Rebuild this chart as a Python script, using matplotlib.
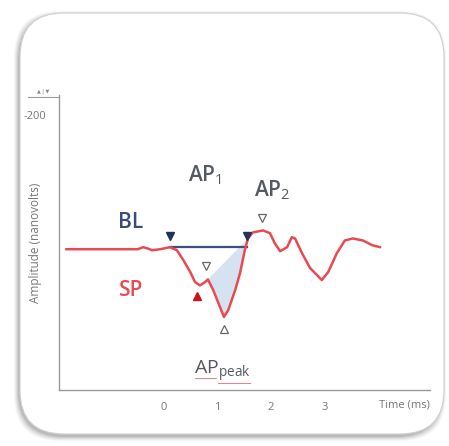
import matplotlib
matplotlib.use("Agg")
import matplotlib.pyplot as plt
from matplotlib.patches import FancyBboxPatch
import numpy as np

plt.rcParams["font.family"] = ["Open Sans", "DejaVu Sans"]
plt.rcParams["mathtext.fontset"] = "custom"
plt.rcParams["mathtext.rm"] = "Open Sans"
plt.rcParams["mathtext.it"] = "Open Sans:italic"

# signal: time (ms) and amplitude (nV, negative is up)
time_ms = [-1.83, -1.20, -0.49, -0.39, -0.32, -0.22, -0.07, 0.11, 0.24, 0.36,
           0.49, 0.58, 0.67, 0.77, 0.82, 0.92, 1.05, 1.12, 1.20, 1.33,
           1.42, 1.51, 1.57, 1.66, 1.85, 1.98, 2.07, 2.17, 2.30, 2.39,
           2.45, 2.58, 2.73, 2.95, 3.07, 3.23, 3.38, 3.53, 3.72, 3.89, 4.04]
amp_nv = [0, 0, 0, -3, -1.5, 1.5, 0, -3, 1.5, 16,
          34, 49, 54, 49, 45, 61, 87, 101, 91, 61,
          36, 1.5, -16, -25, -28, -24, -9, 3, -3, -18,
          -16, 6, 28, 46, 34, 6, -13, -16, -13, -6, -3]

# baseline
bl_t = [0.11, 1.55]
bl_a = [-3, -3]

# markers
bl_mark_t = [0.11, 1.55]
bl_mark_a = [-19, -19]
open_down_t = [0.79, 1.83]
open_down_a = [25, -46]
sp_mark_t, sp_mark_a = [0.62], [70]
peak_mark_t, peak_mark_a = [1.12], [119]

# AP1 area limits
area_t0, area_t1 = 0.80, 1.58

xticks = [0, 1, 2, 3]
yticks = [-200]

red = "#e84a4f"
navy = "#23325e"
blue_txt = "#3b4a7c"
gray_txt = "#555a60"

fig = plt.figure(figsize=(4.49, 4.46), dpi=100)

# frame with shadow
bg = fig.add_axes([0, 0, 1, 1])
bg.set_xlim(0, 449)
bg.set_ylim(446, 0)
bg.axis("off")
for i, al in enumerate([0.05, 0.07, 0.09, 0.12, 0.16]):
    g = 4 - i
    bg.add_patch(FancyBboxPatch((20 - g - 2, 14 - g + 1), 424 + 2 * g, 422 + 2 * g,
                                boxstyle="round,pad=0,rounding_size=46",
                                fc="#5a5a5a", ec="none", alpha=al))
bg.add_patch(FancyBboxPatch((20, 13), 424, 421,
                            boxstyle="round,pad=0,rounding_size=44",
                            fc="white", ec="#d0d0d0", lw=0.8))

ax = fig.add_axes([59 / 449, 1 - 390 / 446, 371 / 449, 295 / 446])
ax.patch.set_alpha(0)
ax.set_xlim(-1.963, 4.972)
ax.set_ylim(210, -230)

t = np.array(time_ms)
a = np.array(amp_nv)
sel = (t >= area_t0) & (t <= area_t1)
ax.fill(t[sel], a[sel], color="#d5e3f1", lw=0, zorder=1)
ax.plot(bl_t, bl_a, color="#3d4f7a", lw=1.6, zorder=2)
ax.plot(time_ms, amp_nv, color=red, lw=1.8, zorder=3,
        solid_joinstyle="round", solid_capstyle="round")

ax.plot(bl_mark_t, bl_mark_a, "v", color=navy, ms=6, zorder=4)
ax.plot(open_down_t, open_down_a, "v", mfc="white", mec="#666666", mew=0.9, ms=6, zorder=4)
ax.plot(sp_mark_t, sp_mark_a, "^", color="#c8141c", ms=6, zorder=4)
ax.plot(peak_mark_t, peak_mark_a, "^", mfc="white", mec="#666666", mew=0.9, ms=6, zorder=4)

ax.text(0.77, -110, r"AP$_1$", fontsize=15, color=gray_txt, ha="center", va="center",
        weight="semibold")
ax.text(2.02, -88, r"AP$_2$", fontsize=15, color=gray_txt, ha="center", va="center",
        weight="semibold")
ax.text(-0.62, -40, "BL", fontsize=15, color=blue_txt, ha="center", va="center",
        weight="semibold")
ax.text(-0.62, 61, "SP", fontsize=15, color=red, ha="center", va="center",
        weight="semibold")
ax.text(1.1, 182, r"AP$_{\mathrm{peak}}$", fontsize=14, color=gray_txt,
        ha="center", va="center")
# spell-check style underline below APpeak
ax.plot([0.58, 0.98], [192, 192], color="#e88080", lw=0.7)
ax.plot([1.0, 1.6], [199, 199], color="#e88080", lw=0.7)

for s in ["top", "right"]:
    ax.spines[s].set_visible(False)
for s in ["left", "bottom"]:
    ax.spines[s].set_color("#9a9a9a")
    ax.spines[s].set_linewidth(1.0)

ax.set_xticks(xticks)
ax.set_yticks(yticks)
ax.set_yticklabels(["-200"])
ax.tick_params(length=0, labelsize=8, labelcolor="#777777", pad=9)
ax.set_ylabel("Amplitude (nanovolts)", fontsize=8.5, color="#777777", labelpad=0)
ax.yaxis.set_label_coords(-0.045, 0.5)
ax.text(1.0, -0.05, "Time (ms)", transform=ax.transAxes, fontsize=8,
        color="#777777", ha="right", va="center")

# small marks above the y axis
bg.plot([28, 59], [97, 97], color="#9a9a9a", lw=0.8)
bg.text(43, 91, "\u25b2 | \u25bc", fontsize=3.5, color="#888888", ha="center", va="center",
        family=["DejaVu Sans"])

fig.savefig("out.png", dpi=100)
